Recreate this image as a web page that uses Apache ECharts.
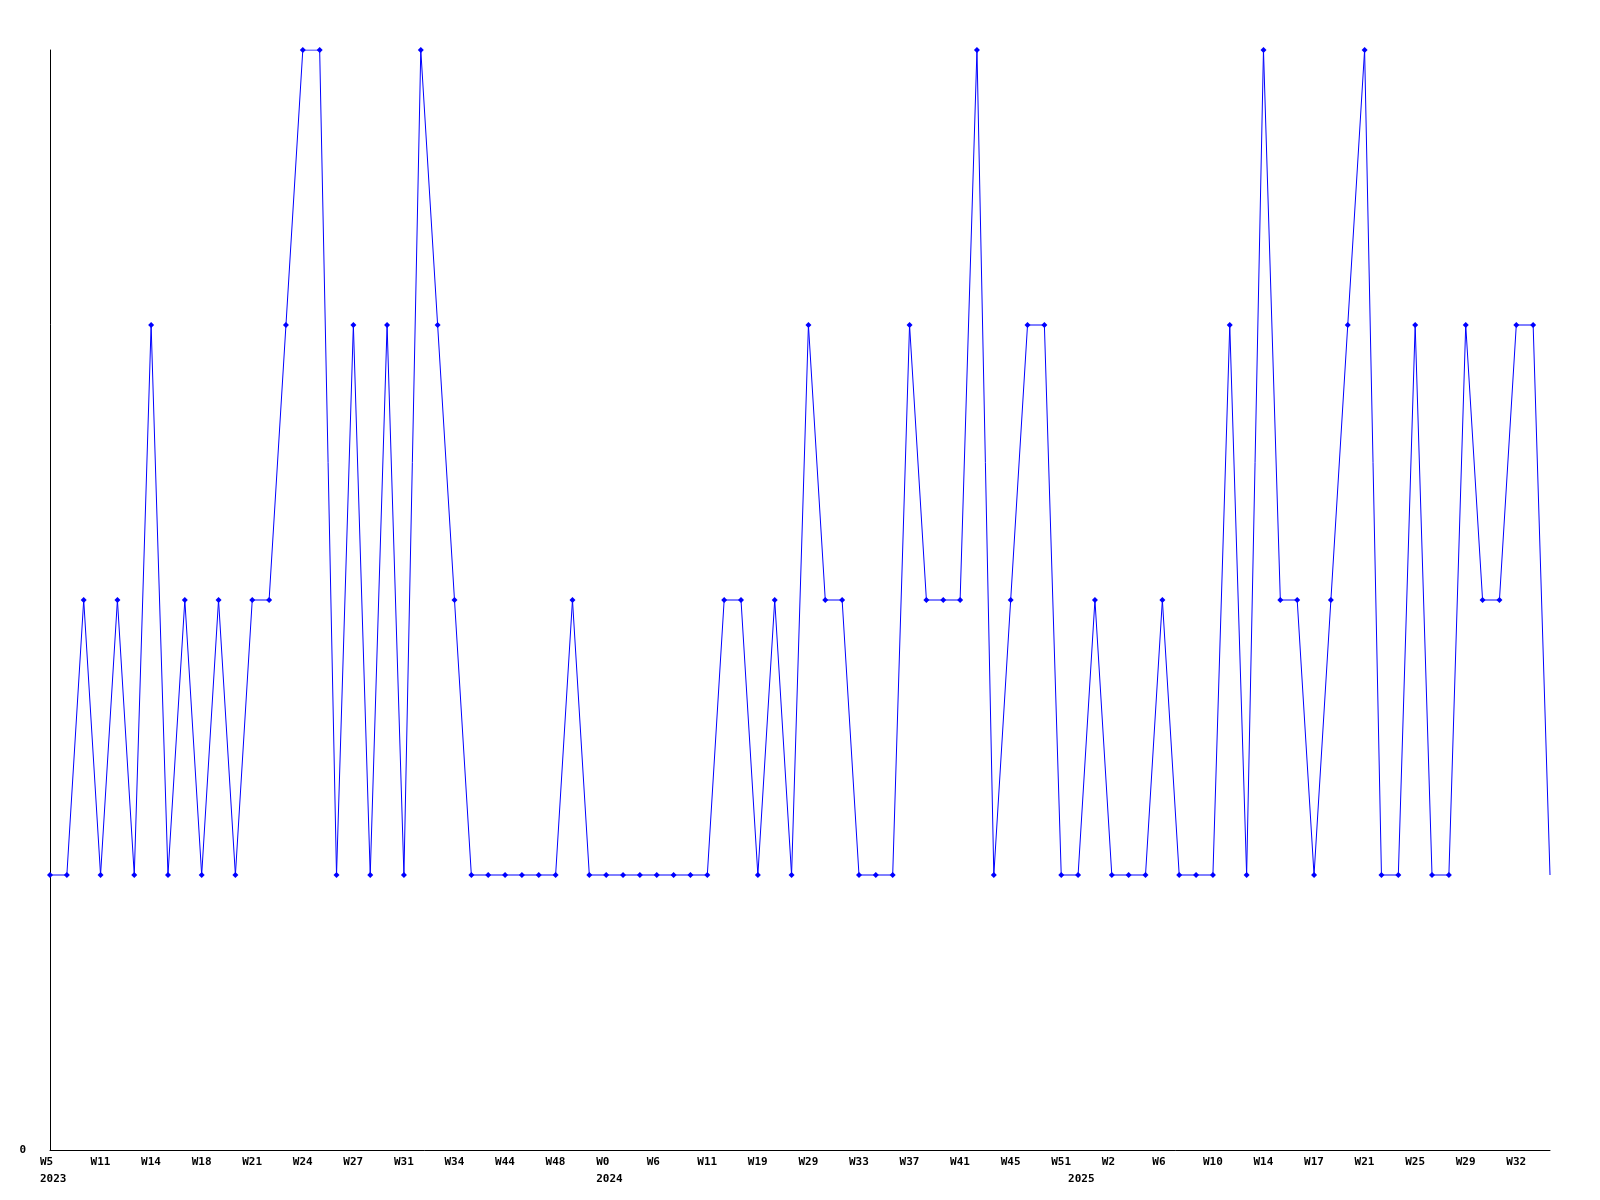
<!DOCTYPE html>
<html>
<head>
<meta charset="utf-8">
<script src="https://cdn.jsdelivr.net/npm/echarts@6/dist/echarts.min.js"></script>
<style>html,body{margin:0;padding:0;background:#fff}#c{width:1600px;height:1200px}</style>
</head>
<body>
<div id="c"></div>
<script>
// categories: "year Wnn" (only every third week label is shown on the axis)
const categories = [
 '2023 W5','2023 W7','2023 W9','2023 W11','2023 W12','2023 W13','2023 W14','2023 W16','2023 W17','2023 W18',
 '2023 W19','2023 W20','2023 W21','2023 W22','2023 W23','2023 W24','2023 W25','2023 W26','2023 W27','2023 W29',
 '2023 W30','2023 W31','2023 W32','2023 W33','2023 W34','2023 W38','2023 W41','2023 W44','2023 W45','2023 W47',
 '2023 W48','2023 W50','2023 W52','2024 W0','2024 W2','2024 W4','2024 W6','2024 W8','2024 W10','2024 W11',
 '2024 W14','2024 W17','2024 W19','2024 W23','2024 W26','2024 W29','2024 W30','2024 W31','2024 W33','2024 W35',
 '2024 W36','2024 W37','2024 W38','2024 W39','2024 W41','2024 W42','2024 W43','2024 W45','2024 W47','2024 W49',
 '2024 W51','2025 W0','2025 W1','2025 W2','2025 W3','2025 W4','2025 W6','2025 W8','2025 W9','2025 W10',
 '2025 W11','2025 W13','2025 W14','2025 W15','2025 W16','2025 W17','2025 W18','2025 W19','2025 W21','2025 W22',
 '2025 W23','2025 W25','2025 W26','2025 W27','2025 W29','2025 W30','2025 W31','2025 W32','2025 W33','2025 W34'
];
const values = [
 1,1,2,1,2,1,3,1,2,1,
 2,1,2,2,3,4,4,1,3,1,
 3,1,4,3,2,1,1,1,1,1,
 1,2,1,1,1,1,1,1,1,1,
 2,2,1,2,1,3,2,2,1,1,
 1,3,2,2,2,4,1,2,3,3,
 1,1,2,1,1,1,2,1,1,1,
 3,1,4,2,2,1,2,3,4,1,
 1,3,1,1,3,2,2,3,3,1
];
const yTickLabels = ['0'];

const weekOf = c => c.split(' ')[1];
const yearOf = c => c.split(' ')[0];
const yearStart = categories.map((c, i) => i === 0 || yearOf(c) !== yearOf(categories[i - 1]));

const seriesData = values.map((v, i) => i === values.length - 1 ? {value: v, symbol: 'none'} : v);

const font = {fontFamily: 'DejaVu Sans Mono', fontWeight: 'bold', fontSize: 11, color: '#000'};

const chart = echarts.init(document.getElementById('c'), null, {renderer: 'canvas'});
chart.setOption({
  animation: false,
  backgroundColor: '#fff',
  grid: {left: 50, right: 50, top: 50, bottom: 50, containLabel: false},
  xAxis: [{
    type: 'category', data: categories, boundaryGap: false,
    axisLine: {show: true, lineStyle: {color: '#000', width: 1}},
    axisTick: {show: false}, splitLine: {show: false},
    axisLabel: {
      interval: 2, margin: 7, align: 'center',
      formatter: v => '{a|' + weekOf(v) + '}',
      rich: {a: Object.assign({width: 20, align: 'left'}, font)}
    }
  }, {
    type: 'category', data: categories, boundaryGap: false, position: 'bottom', offset: 17,
    axisLine: {show: false}, axisTick: {show: false}, splitLine: {show: false},
    axisLabel: {
      interval: (i) => yearStart[i], margin: 7, align: 'center',
      formatter: v => '{a|' + yearOf(v) + '}',
      rich: {a: Object.assign({width: 20, align: 'left'}, font)}
    }
  }],
  yAxis: {
    type: 'value', min: 0, max: 4, interval: 1,
    axisLine: {show: true, lineStyle: {color: '#000', width: 1}},
    axisTick: {show: false}, splitLine: {show: false},
    axisLabel: Object.assign({margin: 24, formatter: v => yTickLabels.includes(String(v)) ? String(v) : ''}, font)
  },
  series: [{
    type: 'line', data: seriesData, xAxisIndex: 0,
    lineStyle: {color: '#0000ff', width: 1},
    itemStyle: {color: '#0000ff'},
    symbol: 'diamond', symbolSize: 6, showSymbol: true
  }]
});
</script>
</body>
</html>
